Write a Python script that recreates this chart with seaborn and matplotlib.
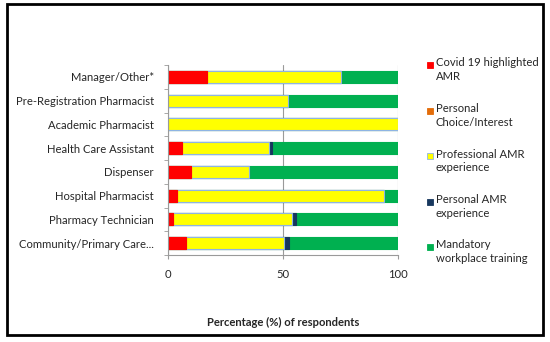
import numpy as np
import pandas as pd
import matplotlib
matplotlib.use('Agg')
import matplotlib.pyplot as plt
import seaborn as sns
from matplotlib.patches import Rectangle

# data (percent of respondents)
roles = ['Manager/Other*', 'Pre-Registration Pharmacist', 'Academic Pharmacist',
         'Health Care Assistant', 'Dispenser', 'Hospital Pharmacist',
         'Pharmacy Technician', 'Community/Primary Care...']
covid = [17, 0, 0, 6, 10, 4, 2, 8]
choice = [0, 0, 0, 0, 0, 0, 0, 0]
professional = [58, 52, 100, 38, 25, 90, 52, 42.5]
personal = [0, 0, 0, 1, 0, 0, 1.5, 2]
mandatory = [25, 48, 0, 55, 65, 6, 44.5, 47.5]

series = ['Covid 19 highlighted\nAMR', 'Personal\nChoice/Interest',
          'Professional AMR\nexperience', 'Personal AMR\nexperience',
          'Mandatory\nworkplace training']
colors = ['#FF0000', '#E36C09', '#FFFF00', '#17375E', '#00B050']
edges = ['#FF0000', '#E36C09', '#8EB4E3', '#17375E', '#00B050']

df = pd.DataFrame({'role': roles, 's0': covid, 's1': choice, 's2': professional,
                   's3': personal, 's4': mandatory})
cols = ['s0', 's1', 's2', 's3', 's4']
cum = df[cols].cumsum(axis=1)
cum['role'] = roles

sns.set_style('white')
plt.rcParams['font.family'] = ['Lato', 'DejaVu Sans']

fig = plt.figure(figsize=(5.5, 3.42), dpi=100)
ax = fig.add_axes([168 / 550, 1 - 255 / 342, (398 - 168) / 550, (255 - 65) / 342])

# stacked bars: draw cumulative totals from the last series back to the first
for i in reversed(range(len(cols))):
    sns.barplot(data=cum, x=cols[i], y='role', order=roles, orient='y',
                color=colors[i], saturation=1, width=0.5,
                edgecolor=edges[i], linewidth=0.8, ax=ax)
for p in ax.patches:
    if p.get_width() == 0:
        p.set_visible(False)

ax.set_xlim(0, 100)
ax.set_ylim(7.5, -0.5)
ax.set_xticks([0, 50, 100])
ax.xaxis.grid(True, color='#9a9a9a', lw=0.8)
ax.set_axisbelow(True)
for s in ['top', 'right']:
    ax.spines[s].set_visible(False)
for s in ['left', 'bottom']:
    ax.spines[s].set_color('#9a9a9a')
    ax.spines[s].set_linewidth(0.8)
ax.set_yticks(np.arange(-0.5, 8, 1), minor=True)
ax.tick_params(axis='y', which='major', length=0, pad=10, labelsize=8.1)
ax.tick_params(axis='y', which='minor', left=True, length=3, color='#9a9a9a')
ax.tick_params(axis='x', length=3, color='#9a9a9a', pad=7, labelsize=8.1,
               bottom=True)
ax.set_ylabel('')
ax.set_xlabel('Percentage (%) of respondents', fontsize=8.1, fontweight='bold',
              labelpad=27)

# legend on the right, marker aligned with the first line of each label
for i, name in enumerate(series):
    y = 65 + 45.5 * i
    fig.add_artist(Rectangle((427 / 550, 1 - (y + 3) / 342), 6 / 550, 6 / 342,
                             transform=fig.transFigure, facecolor=colors[i],
                             edgecolor=edges[i], lw=0.6))
    fig.text(436 / 550, 1 - (y - 7.5) / 342, name, va='top', ha='left',
             fontsize=8.1, linespacing=1.3)

# outer frame
fig.add_artist(Rectangle((7 / 550, 1 - 335 / 342), 536 / 550, 331 / 342,
                         transform=fig.transFigure, fill=False,
                         edgecolor='black', lw=2))

fig.savefig('out.png', dpi=100)
